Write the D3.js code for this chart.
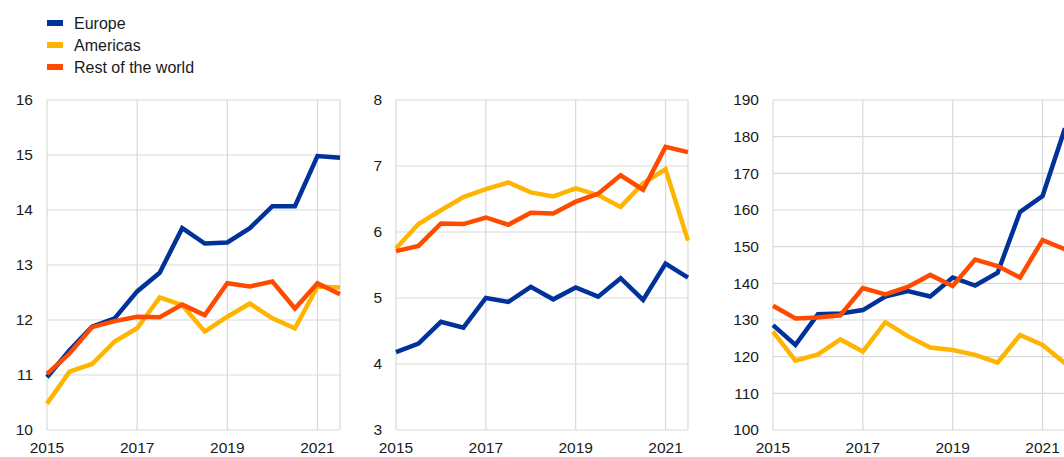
<!DOCTYPE html>
<html>
<head>
<meta charset="utf-8">
<script src="https://cdn.jsdelivr.net/npm/d3@7"></script>
<style>
  body { margin: 0; background: #fff; }
  svg text { font-family: "Liberation Sans", Arial, sans-serif; fill: #1a1a1a; }
</style>
</head>
<body>
<div class="chart_container"></div>
<script>
// half-yearly observations, 2015 H1 .. 2021 H2
const periods = [2015, 2015.5, 2016, 2016.5, 2017, 2017.5, 2018, 2018.5, 2019, 2019.5, 2020, 2020.5, 2021, 2021.5];
const xTicks = [2015, 2017, 2019, 2021];
const seriesNames = ['Europe', 'Americas', 'Rest of the world'];
const colors = ['#003299', '#ffb400', '#ff4b00'];

// panel 1
const p1Europe = [10.96, 11.45, 11.88, 12.03, 12.52, 12.86, 13.67, 13.39, 13.41, 13.67, 14.07, 14.07, 14.98, 14.95];
const p1Americas = [10.48, 11.06, 11.2, 11.61, 11.85, 12.41, 12.27, 11.79, 12.06, 12.3, 12.03, 11.85, 12.61, 12.59];
const p1Rest = [11.02, 11.39, 11.87, 11.98, 12.06, 12.05, 12.28, 12.09, 12.67, 12.61, 12.7, 12.21, 12.67, 12.47];
const p1Ticks = [10, 11, 12, 13, 14, 15, 16];

// panel 2
const p2Europe = [4.18, 4.31, 4.64, 4.55, 5.0, 4.94, 5.17, 4.98, 5.16, 5.02, 5.3, 4.97, 5.52, 5.31];
const p2Americas = [5.75, 6.12, 6.33, 6.53, 6.65, 6.75, 6.6, 6.54, 6.66, 6.56, 6.38, 6.74, 6.95, 5.87];
const p2Rest = [5.71, 5.79, 6.13, 6.12, 6.22, 6.11, 6.29, 6.28, 6.46, 6.58, 6.86, 6.64, 7.29, 7.21];
const p2Ticks = [3, 4, 5, 6, 7, 8];

// panel 3
const p3Europe = [128.6, 123.2, 131.6, 131.8, 132.7, 136.4, 137.9, 136.4, 141.6, 139.4, 142.9, 159.5, 163.8, 182.3];
const p3Americas = [126.8, 118.9, 120.6, 124.7, 121.4, 129.4, 125.6, 122.5, 121.8, 120.5, 118.4, 125.9, 123.2, 118.2];
const p3Rest = [133.9, 130.4, 130.7, 131.3, 138.7, 137.0, 139.0, 142.3, 139.3, 146.5, 144.7, 141.6, 151.8, 149.3];
const p3Ticks = [100, 110, 120, 130, 140, 150, 160, 170, 180, 190];

const W = 1064, H = 457;
const plotTop = 100, plotBottom = 430;

const svg = d3.select('.chart_container')
  .append('svg')
  .attr('width', W)
  .attr('height', H);

//legend
const legend = svg.append('g').attr('class', 'legend');
seriesNames.forEach((name, i) => {
  const y = 23 + i * 22;
  legend.append('rect')
    .attr('x', 47).attr('y', y - 3)
    .attr('width', 16).attr('height', 6)
    .attr('fill', colors[i]);
  legend.append('text')
    .attr('x', 74).attr('y', y)
    .attr('dy', '0.35em')
    .style('font-size', '16px')
    .text(name);
});

function panel(left, right, yTicks, data){
  const x = d3.scaleLinear().domain([2015, 2021.5]).range([left, right]);
  const y = d3.scaleLinear().domain(d3.extent(yTicks)).range([plotBottom, plotTop]);
  const g = svg.append('g');

  // horizontal gridlines
  g.selectAll('.hgrid').data(yTicks).enter()
    .append('line')
    .attr('x1', left).attr('x2', right)
    .attr('y1', d => y(d)).attr('y2', d => y(d))
    .attr('stroke', '#d9d9d9').attr('stroke-width', 1.2);

  // vertical gridlines + frame edges
  g.selectAll('.vgrid').data(xTicks.concat([2021.5])).enter()
    .append('line')
    .attr('x1', d => x(d)).attr('x2', d => x(d))
    .attr('y1', plotTop).attr('y2', plotBottom)
    .attr('stroke', '#d9d9d9').attr('stroke-width', 1.2);

  // y tick labels
  g.selectAll('.ylab').data(yTicks).enter()
    .append('text')
    .attr('x', left - 14)
    .attr('y', d => y(d))
    .attr('dy', '0.35em')
    .attr('text-anchor', 'end')
    .style('font-size', '15.5px')
    .text(d => d);

  // x tick labels
  g.selectAll('.xlab').data(xTicks).enter()
    .append('text')
    .attr('x', d => x(d))
    .attr('y', 453)
    .attr('text-anchor', 'middle')
    .style('font-size', '15.5px')
    .text(d => d);

  const line = d3.line()
    .x((d, i) => x(periods[i]))
    .y(d => y(d));

  data.forEach((vals, i) => {
    g.append('path')
      .datum(vals)
      .attr('fill', 'none')
      .attr('stroke', colors[i])
      .attr('stroke-width', 4.5)
      .attr('stroke-linejoin', 'miter')
      .attr('d', line);
  });
}

panel(47, 340, p1Ticks, [p1Europe, p1Americas, p1Rest]);
panel(396, 688, p2Ticks, [p2Europe, p2Americas, p2Rest]);
panel(773, 1065, p3Ticks, [p3Europe, p3Americas, p3Rest]);
</script>
</body>
</html>
